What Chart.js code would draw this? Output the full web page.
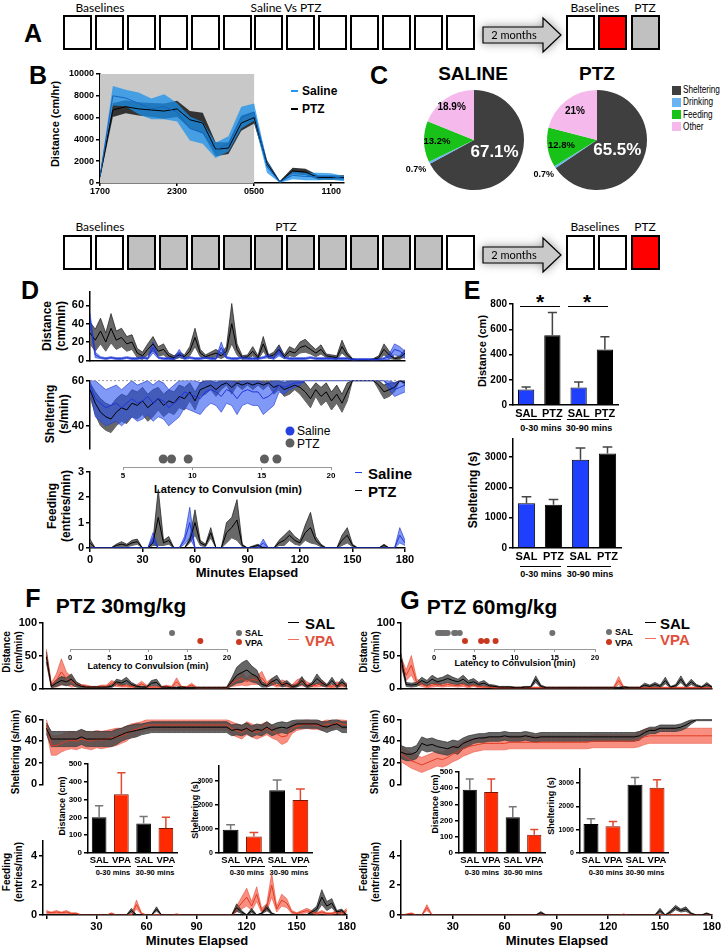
<!DOCTYPE html>
<html lang="en">
<head>
<meta charset="UTF-8">
<title>PTZ behaviour figure</title>
<script src="https://cdn.jsdelivr.net/npm/chart.js"></script>
<style>
  body { margin: 0; background: #fff; }
  #fig { position: relative; width: 721px; height: 948px; overflow: hidden; font-family: 'Liberation Sans', Arial, sans-serif; color: #000; }
  #fig canvas { position: absolute; }
  .t { position: absolute; transform: translate(-50%, -50%); white-space: nowrap; font-weight: bold; line-height: 1; }
  .l { position: absolute; transform: translateY(-50%); white-space: nowrap; font-weight: bold; line-height: 1; }
  .v { position: absolute; transform: translate(-50%, -50%) rotate(-90deg); white-space: nowrap; font-weight: bold; line-height: 1.15; text-align: center; }
  .panel { font-size: 25px; }
  .sched { font-family: Lato, sans-serif; font-weight: normal; font-size: 12px; }
  .box { position: absolute; border: 2px solid #000; box-sizing: border-box; }
  .hl { position: absolute; height: 0; border-top: 1px solid #000; }
  .dot { position: absolute; border-radius: 50%; transform: translate(-50%, -50%); }
  .sq { position: absolute; width: 9px; height: 9px; }
  .key { position: absolute; transform: translateY(-50%) scaleX(0.82); transform-origin: left center; white-space: nowrap; line-height: 1; font-size: 10px; }
  .arrow { position: absolute; filter: drop-shadow(0 0 5px rgba(0,0,0,0.4)); }
</style>
</head>
<body>
<div id="fig">
  <!-- panel letters -->
  <div class="t panel" style="left:33px;top:33px">A</div>
  <div class="t panel" style="left:38px;top:75px">B</div>
  <div class="t panel" style="left:379px;top:75px">C</div>
  <div class="t panel" style="left:30px;top:290px">D</div>
  <div class="t panel" style="left:472px;top:290px">E</div>
  <div class="t panel" style="left:33px;top:598px">F</div>
  <div class="t panel" style="left:410px;top:600px">G</div>

  <!-- schedules -->
  <div class="t sched" style="left:100px;top:8px">Baselines</div>
  <div class="t sched" style="left:286px;top:8px">Saline Vs PTZ</div>
  <div class="t sched" style="left:595px;top:8px">Baselines</div>
  <div class="t sched" style="left:645px;top:8px">PTZ</div>
  <div class="t sched" style="left:100px;top:227px">Baselines</div>
  <div class="t sched" style="left:286px;top:227px">PTZ</div>
  <div class="t sched" style="left:595px;top:227px">Baselines</div>
  <div class="t sched" style="left:645px;top:227px">PTZ</div>
  <svg class="arrow" style="left:480px;top:14px" width="86" height="42">
    <polygon points="3,13 63,13 63,4 81,21 63,38 63,29 3,29" fill="#c9c9c9" stroke="#000" stroke-width="1.2"/>
    <text x="34" y="25" font-family="Lato" font-size="11" text-anchor="middle">2 months</text>
  </svg>
  <svg class="arrow" style="left:480px;top:234px" width="86" height="42">
    <polygon points="3,13 63,13 63,4 81,21 63,38 63,29 3,29" fill="#c9c9c9" stroke="#000" stroke-width="1.2"/>
    <text x="34" y="25" font-family="Lato" font-size="11" text-anchor="middle">2 months</text>
  </svg>

  <!-- B -->
  <div class="v" style="left:55px;top:124px;font-size:11px">Distance (cm/hr)</div>
  <div class="hl" style="left:291px;top:90px;width:7px;border-top:2px solid #2196f3"></div>
  <div class="l" style="left:302px;top:91px;font-size:12px">Saline</div>
  <div class="hl" style="left:291px;top:108px;width:7px;border-top:2px solid #000"></div>
  <div class="l" style="left:302px;top:109px;font-size:12px">PTZ</div>

  <!-- C -->
  <div class="t" style="left:473px;top:73px;font-size:19px">SALINE</div>
  <div class="t" style="left:597px;top:73px;font-size:19px">PTZ</div>
  <div class="sq" style="left:672px;top:86px;background:#3f3f3f"></div>
  <div class="key" style="left:683px;top:90px">Sheltering</div>
  <div class="sq" style="left:672px;top:98px;background:#6bb3f2"></div>
  <div class="key" style="left:683px;top:102px">Drinking</div>
  <div class="sq" style="left:672px;top:110px;background:#19c219"></div>
  <div class="key" style="left:683px;top:115px">Feeding</div>
  <div class="sq" style="left:672px;top:122px;background:#f5b9ec"></div>
  <div class="key" style="left:683px;top:127px">Other</div>

  <!-- D -->
  <div class="v" style="left:55px;top:326px;font-size:12px">Distance<br>(cm/min)</div>
  <div class="v" style="left:58px;top:414px;font-size:12px">Sheltering<br>(s/min)</div>
  <div class="v" style="left:60px;top:506px;font-size:12px">Feeding<br>(entries/min)</div>
  <div class="t" style="left:247px;top:572px;font-size:13px">Minutes Elapsed</div>
  <div class="t" style="left:228px;top:489px;font-size:11px">Latency to Convulsion (min)</div>
  <div class="dot" style="left:290px;top:431px;width:9px;height:9px;background:#2541e0"></div>
  <div class="l" style="left:297px;top:431px;font-size:12px;font-weight:normal">Saline</div>
  <div class="dot" style="left:290px;top:443px;width:9px;height:9px;background:#5f5f5f"></div>
  <div class="l" style="left:297px;top:444px;font-size:12px;font-weight:normal">PTZ</div>
  <div class="hl" style="left:355px;top:472px;width:7px;border-top:1.5px solid #2541e0"></div>
  <div class="l" style="left:368px;top:473px;font-size:15px">Saline</div>
  <div class="hl" style="left:355px;top:490px;width:7px;border-top:1.5px solid #000"></div>
  <div class="l" style="left:368px;top:491px;font-size:15px">PTZ</div>

  <!-- E -->
  <div class="v" style="left:482px;top:351px;font-size:11px">Distance (cm)</div>
  <div class="v" style="left:474px;top:490px;font-size:12px">Sheltering (s)</div>
  <div class="hl" style="left:520px;top:306px;width:40px;border-top-width:1.5px"></div>
  <div class="hl" style="left:568px;top:306px;width:40px;border-top-width:1.5px"></div>
  <div class="t" style="left:540px;top:301px;font-size:21px">*</div>
  <div class="t" style="left:587px;top:301px;font-size:21px">*</div>
  <div class="hl" style="left:520px;top:419px;width:41px"></div>
  <div class="hl" style="left:567px;top:419px;width:42px"></div>
  <div class="t" style="left:541px;top:428px;font-size:9px">0-30 mins</div>
  <div class="t" style="left:589px;top:428px;font-size:9px">30-90 mins</div>
  <div class="hl" style="left:520px;top:566px;width:41px"></div>
  <div class="hl" style="left:567px;top:566px;width:44px"></div>
  <div class="t" style="left:541px;top:574px;font-size:9px">0-30 mins</div>
  <div class="t" style="left:590px;top:574px;font-size:9px">30-90 mins</div>

  <!-- F -->
  <div class="t" style="left:121px;top:605px;font-size:21px">PTZ 30mg/kg</div>
  <div class="v" style="left:12px;top:652px;font-size:10px">Distance<br>(cm/min)</div>
  <div class="v" style="left:16px;top:752px;font-size:10px">Sheltering (s/min)</div>
  <div class="v" style="left:12px;top:872px;font-size:10px">Feeding<br>(entries/min)</div>
  <div class="t" style="left:197px;top:940px;font-size:13px">Minutes Elapsed</div>
  <div class="t" style="left:148px;top:666px;font-size:9px">Latency to Convulsion (min)</div>
  <div class="dot" style="left:239px;top:633px;width:6px;height:6px;background:#707070"></div>
  <div class="l" style="left:245px;top:633px;font-size:9px">SAL</div>
  <div class="dot" style="left:239px;top:642px;width:6px;height:6px;background:#c8381e"></div>
  <div class="l" style="left:245px;top:643px;font-size:9px">VPA</div>
  <div class="hl" style="left:288px;top:622px;width:11px;border-top:1.5px solid #000"></div>
  <div class="l" style="left:305px;top:623px;font-size:15px">SAL</div>
  <div class="hl" style="left:288px;top:639px;width:11px;border-top:1.5px solid #f07060"></div>
  <div class="l" style="left:305px;top:640px;font-size:15px;color:#e0503a">VPA</div>
  <div class="v" style="left:62px;top:806px;font-size:9px">Distance (cm)</div>
  <div class="v" style="left:195px;top:810px;font-size:9px">Sheltering (s)</div>
  <div class="hl" style="left:95px;top:866px;width:36px"></div>
  <div class="hl" style="left:137px;top:866px;width:36px"></div>
  <div class="t" style="left:113px;top:873px;font-size:7.5px">0-30 mins</div>
  <div class="t" style="left:155px;top:873px;font-size:7.5px">30-90 mins</div>
  <div class="hl" style="left:230px;top:866px;width:35px"></div>
  <div class="hl" style="left:272px;top:866px;width:35px"></div>
  <div class="t" style="left:247px;top:873px;font-size:7.5px">0-30 mins</div>
  <div class="t" style="left:289px;top:873px;font-size:7.5px">30-90 mins</div>

  <!-- G -->
  <div class="t" style="left:492px;top:606px;font-size:21px">PTZ 60mg/kg</div>
  <div class="v" style="left:369px;top:652px;font-size:10px">Distance<br>(cm/min)</div>
  <div class="v" style="left:375px;top:752px;font-size:10px">Sheltering (s/min)</div>
  <div class="v" style="left:369px;top:872px;font-size:10px">Feeding<br>(entries/min)</div>
  <div class="t" style="left:557px;top:940px;font-size:13px">Minutes Elapsed</div>
  <div class="t" style="left:515px;top:663px;font-size:9px">Latency to Convulsion (min)</div>
  <div class="dot" style="left:609px;top:632px;width:6px;height:6px;background:#707070"></div>
  <div class="l" style="left:615px;top:632px;font-size:9px">SAL</div>
  <div class="dot" style="left:609px;top:642px;width:6px;height:6px;background:#c8381e"></div>
  <div class="l" style="left:615px;top:643px;font-size:9px">VPA</div>
  <div class="hl" style="left:645px;top:622px;width:11px;border-top:1.5px solid #000"></div>
  <div class="l" style="left:660px;top:623px;font-size:15px">SAL</div>
  <div class="hl" style="left:645px;top:638px;width:11px;border-top:1.5px solid #f07060"></div>
  <div class="l" style="left:660px;top:639px;font-size:15px;color:#e0503a">VPA</div>
  <div class="v" style="left:435px;top:804px;font-size:9px">Distance (cm)</div>
  <div class="v" style="left:551px;top:806px;font-size:9px">Sheltering (s)</div>
  <div class="hl" style="left:465px;top:866px;width:35px"></div>
  <div class="hl" style="left:505px;top:866px;width:36px"></div>
  <div class="t" style="left:482px;top:873px;font-size:7.5px">0-30 mins</div>
  <div class="t" style="left:523px;top:873px;font-size:7.5px">30-90 mins</div>
  <div class="hl" style="left:589px;top:866px;width:34px"></div>
  <div class="hl" style="left:628px;top:866px;width:35px"></div>
  <div class="t" style="left:606px;top:873px;font-size:7.5px">0-30 mins</div>
  <div class="t" style="left:645px;top:873px;font-size:7.5px">30-90 mins</div>
</div>

<script>
    // ---------- Panel B: 24 h distance, hourly ----------
    var bHour = [0,1,2,3,4,5,6,7,8,9,10,11,12,13,14,15,16,17,18,19];
    var bClockAt = [0, 6, 12, 18];
    var bClockTicks = ['1700', '2300', '0500', '1100'];
    var bNight = [0, 12];
    var bSalMean = [600,8000,7800,7300,6800,7000,6500,5000,4600,3000,3600,6000,6500,1500,100,700,600,600,600,400];
    var bSalSem  = [200,900,750,1000,950,1150,850,1100,1000,700,700,1000,800,550,80,350,350,350,300,250];
    var bPtzMean = [600,6700,7000,6800,6700,6600,6800,5800,5500,3100,3200,5500,6000,1800,100,1100,1000,500,500,500];
    var bPtzSem  = [200,650,600,600,650,700,750,800,950,650,550,700,550,300,80,300,300,200,200,200];

    // ---------- Panel C: time budget (%) ----------
    var pieCats = ['Sheltering', 'Drinking', 'Feeding', 'Other'];
    var pieSaline = [67.1, 0.7, 13.2, 18.9];
    var piePtz = [65.5, 0.7, 12.8, 21];

    // ---------- Panels D, F, G: 3-min bins ----------
    var minutes = [0,3,6,9,12,15,18,21,24,27,30,33,36,39,42,45,48,51,54,57,60,63,66,69,72,75,78,81,84,87,
                   90,93,96,99,102,105,108,111,114,117,120,123,126,129,132,135,138,141,144,147,150,153,156,159,162,165,168,171,174,177,180];

    // D distance (cm/min)
    var dDistSal = [45,6,3,2,3,2,2,3,2,2, 3,2,14,3,2,2,2,8,2,3, 2,2,3,2,2,14,3,2,2,3, 2,2,2,3,5,2,10,3,2,2, 2,2,3,2,2,2,2,2,2,2, 1,1,1,1,1,1,2,4,12,10, 6];
    var dDistSalSem = [6,3,1,1,1,1,1,1,1,1, 1,1,6,1,1,1,1,4,1,1, 1,1,1,1,1,6,1,1,1,1, 1,1,1,1,2,1,5,1,1,1, 1,1,1,1,1,1,1,1,1,1, 1,1,1,1,1,1,1,3,6,5, 4];
    var dDistPtz = [30,22,32,20,35,22,25,18,20,8, 5,12,18,10,12,5,3,6,4,10, 25,8,4,6,8,5,10,40,12,3, 4,10,3,18,4,6,12,4,10,8, 14,16,12,8,12,5,4,3,15,6, 1,0,0,0,1,3,12,6,2,3, 8];
    var dDistPtzSem = [12,12,14,10,16,10,10,8,8,5, 4,6,8,5,6,3,2,3,2,5, 10,4,2,3,4,3,5,22,6,2, 2,5,2,8,2,3,5,2,5,4, 6,7,5,4,5,2,2,2,7,3, 1,0,0,0,1,2,6,4,1,2, 4];
    // D sheltering (s/min)
    var dShelSal = [58,52,50,48,49,50,48,50,52,50, 51,53,50,52,51,48,50,52,55,54, 53,52,55,56,55,53,56,55,52,55, 56,55,55,52,53,55,58,57,58,59, 59,60,60,60,60,60,60,60,60,60, 60,60,60,60,60,60,60,58,56,57, 58];
    var dShelSalSem = [2,8,8,8,8,8,8,8,8,8, 8,8,8,8,8,8,8,8,7,7, 7,7,7,6,6,7,6,6,7,6, 6,6,6,7,6,6,3,3,2,2, 1,0,0,0,0,0,0,0,0,0, 0,0,0,0,0,0,0,2,3,3, 3];
    var dShelPtz = [56,50,46,44,43,46,48,47,50,49, 51,48,50,52,49,51,50,53,52,55, 51,56,57,58,56,58,59,57,59,58, 59,58,59,58,59,57,58,56,57,58, 57,55,52,56,53,55,51,54,50,55, 60,60,60,60,60,58,55,56,57,60, 59];
    var dShelPtzSem = [3,5,6,6,6,6,6,6,6,6, 6,6,6,5,5,5,5,5,5,4, 4,3,3,2,3,2,1,3,1,2, 1,2,1,2,1,3,2,3,3,2, 3,4,4,3,4,4,4,4,4,4, 0,0,0,0,0,2,3,3,2,0, 1];
    var dShelTop = 60;
    // D feeding (entries/min)
    var dFeedSal = [0,0,0,0,0,0,0,0,0,0, 0,0,0.4,0,0,0,0,0,0.3,1.0, 0,0,0,0,0,0,0,0,0,0, 0,0,0,0.2,0,0,0,0,0,0, 0,0,0,0,0,0,0,0,0,0, 0,0,0,0,0,0,0,0,0,0.5, 0.2];
    var dFeedSalSem = [0,0,0,0,0,0,0,0,0,0, 0,0,0.2,0,0,0,0,0,0.15,0.6, 0,0,0,0,0,0,0,0,0,0, 0,0,0,0.15,0,0,0,0,0,0, 0,0,0,0,0,0,0,0,0,0, 0,0,0,0,0,0,0,0,0,0.3, 0.1];
    var dFeedPtz = [0.2,0,0,0,0,0.1,0.15,0.1,0.2,0.25, 0,0,0.2,1.2,0.2,0.3,0,0,0,0.3, 1.0,0.2,0.1,0.6,0,0,0.6,0.8,1.1,0.1, 0,0.05,0.1,0,0,0,0.2,0.3,0.5,0.3, 0.2,0.6,0.8,0.3,0.1,0,0,0,0.3,0.5, 0.1,0,0,0,0,0,0.1,0,0,0, 0];
    var dFeedPtzSem = [0.15,0,0,0,0,0.05,0.1,0.05,0.1,0.1, 0,0,0.1,1.1,0.1,0.15,0,0,0,0.1, 0.5,0.1,0.05,0.2,0,0,0.4,0.4,0.8,0.05, 0,0.03,0.05,0,0,0,0.1,0.2,0.2,0.15, 0.1,0.3,0.6,0.15,0.05,0,0,0,0.2,0.3, 0.05,0,0,0,0,0,0.05,0,0,0, 0];
    // D latency to convulsion (min)
    var dLatRows = ['PTZ', ''];
    var dLatPtz = [7.9, 8.5, 9.7, 15.2, 16.1];

    // ---------- Panel E ----------
    var eCats = ['SAL', 'PTZ', 'SAL', 'PTZ'];
    var eDist = [122, 553, 138, 439];
    var eDistSem = [21, 179, 44, 101];
    var eShel = [1480, 1425, 2915, 3120];
    var eShelSem = [213, 180, 385, 215];

    // ---------- Panel F: PTZ 30 mg/kg ----------
    var fDistSal = [48,3,8,12,10,14,6,3,2,2, 2,2,2,3,10,8,12,6,3,2, 2,8,9,2,2,1,1,2,1,1, 1,1,1,1,1,1,1,10,20,24, 28,22,18,6,4,10,14,5,8,3, 4,12,3,6,15,8,4,12,3,10, 3];
    var fDistSalSem = [8,2,5,6,6,8,4,2,1,1, 1,1,1,2,4,4,5,3,2,1, 1,4,5,1,1,1,1,1,1,1, 1,1,1,1,1,1,1,6,12,15, 15,12,10,4,2,5,6,3,4,2, 2,6,2,3,7,4,2,5,2,5, 2];
    var fDistVpa = [50,5,12,25,15,10,6,4,3,2, 2,3,3,8,6,4,4,3,3,7, 3,2,2,2,3,2,10,2,2,5, 1,1,1,1,1,1,1,8,12,15, 10,14,12,16,6,10,4,8,6,3, 8,10,6,4,5,8,4,3,6,5, 5];
    var fDistVpaSem = [10,3,10,20,10,8,3,2,2,1, 1,2,2,4,3,2,2,2,2,4, 2,1,1,1,2,1,6,1,1,3, 1,1,1,1,1,1,1,5,8,10, 6,8,6,10,4,5,2,5,4,2, 5,6,4,2,3,5,2,2,4,3, 3];
    var fShelSal = [52,42,42,42,42,42,42,44,42,42, 42,42,42,42,44,46,48,49,50,51, 52,53,53,53,53,53,53,53,53,53, 53,53,53,53,53,53,53,50,51,50, 52,49,51,50,53,50,52,53,52,54, 56,56,56,56,56,54,53,55,56,53, 53];
    var fShelSalSem = [5,7,7,7,7,7,7,7,7,7, 7,7,7,7,7,6,6,6,6,5, 5,5,5,5,5,5,5,5,5,5, 5,5,5,5,5,5,5,5,5,5, 5,5,5,5,5,5,5,5,5,5, 4,4,4,4,4,4,5,5,5,5, 5];
    var fShelVpa = [55,36,36,38,40,41,40,42,41,40, 42,41,42,43,44,45,47,50,51,53, 55,55,55,55,55,55,55,55,55,55, 55,55,55,55,55,55,55,52,50,48, 52,50,48,50,52,49,47,44,45,52, 54,55,56,55,55,54,56,55,57,56, 55];
    var fShelVpaSem = [5,9,9,8,8,8,8,8,8,8, 8,8,8,8,8,7,7,6,6,5, 5,5,5,5,5,5,5,5,5,5, 5,5,5,5,5,5,5,6,6,6, 6,6,6,6,6,6,6,7,6,5, 4,4,4,4,4,4,4,4,4,4, 4];
    var fFeedSal = [0,0,0,0,0,0,0,0,0,0, 0,0,0,0,0,0,0,0.3,0,0, 0,0,0.4,0,0,0,0,0,0,0, 0,0,0,0,0,0,0,0,0.5,0.2, 0,0.3,0,0.1,0.5,0.1,0,0,0,0, 0,0,0,0.2,0.4,1.2,0.6,0.8,0.2,0.3, 0];
    var fFeedSalSem = [0,0,0,0,0,0,0,0,0,0, 0,0,0,0,0,0,0,0.15,0,0, 0,0,0.15,0,0,0,0,0,0,0, 0,0,0,0,0,0,0,0,0.25,0.1, 0,0.15,0,0.05,0.2,0.05,0,0,0,0, 0,0,0,0.1,0.2,0.5,0.3,0.3,0.1,0.1, 0];
    var fFeedVpa = [0.2,0.15,0.2,0.15,0.2,0.1,0.1,0,0,0, 0,0,0,0.1,0,0,0,0,0.7,0.1, 0,0,0,0,0,0,0.05,0,0,0, 0,0,0,0,0,0,0,0,0.4,0.8, 1.2,0.6,1.4,0.3,0.5,2.0,0.4,1.0,0.8,0.2, 0.1,0.2,0.3,0.2,0.1,0.2,0.1,0.1,0.2,0.1, 0.3];
    var fFeedVpaSem = [0.1,0.05,0.1,0.05,0.1,0.05,0.05,0,0,0, 0,0,0,0.05,0,0,0,0,0.3,0.05, 0,0,0,0,0,0,0.03,0,0,0, 0,0,0,0,0,0,0,0,0.2,0.4, 0.6,0.3,0.5,0.15,0.25,0.8,0.2,0.4,0.3,0.1, 0.05,0.1,0.15,0.1,0.05,0.1,0.05,0.05,0.1,0.05, 0.15];
    var latRows = ['SAL', 'VPA', ''];
    var fLatSal = [13.0];
    var fLatVpa = [16.6];
    var insetCats = ['SAL', 'VPA', 'SAL', 'VPA'];
    var fBarDist = [200, 330, 165, 140];
    var fBarDistSem = [65, 120, 40, 60];
    var fBarShel = [960, 680, 2600, 2200];
    var fBarShelSem = [210, 170, 430, 450];

    // ---------- Panel G: PTZ 60 mg/kg ----------
    var gDistSal = [45,6,5,6,12,8,14,10,12,15, 12,10,14,8,10,6,8,4,3,2, 2,2,1,1,2,2,14,3,1,1, 1,1,1,1,1,1,1,1,1,1, 1,1,1,2,1,1,1,5,3,6, 3,12,2,4,14,3,10,4,2,6, 2];
    var gDistSalSem = [8,3,3,3,5,4,6,5,5,6, 5,4,6,4,5,3,4,2,2,1, 1,1,1,1,1,1,5,2,1,1, 1,1,1,1,1,1,1,1,1,1, 1,1,1,1,1,1,1,3,2,3, 2,5,1,2,5,2,4,2,1,3, 1];
    var gDistVpa = [40,20,35,10,6,3,5,6,4,6, 5,4,6,3,5,3,2,2,1,1, 1,1,1,1,1,1,1,1,1,1, 1,1,1,1,1,1,1,1,1,1, 1,1,12,1,1,1,1,1,1,1, 1,1,1,1,1,1,1,1,1,1, 1];
    var gDistVpaSem = [8,8,15,5,3,2,3,3,2,3, 2,2,3,2,2,2,1,1,1,1, 1,1,1,1,1,1,1,1,1,1, 1,1,1,1,1,1,1,1,1,1, 1,1,6,1,1,1,1,1,1,1, 1,1,1,1,1,1,1,1,1,1, 1];
    var gShelSal = [30,28,28,30,38,36,37,35,34,33, 35,34,38,40,42,43,43,44,44,44, 45,44,44,44,45,44,43,44,44,44, 44,44,44,44,44,44,44,44,44,44, 44,44,44,44,44,44,45,48,50,50, 52,52,52,52,53,55,58,60,60,60, 60];
    var gShelSalSem = [6,6,6,6,6,6,6,6,6,6, 6,6,5,5,4,4,4,4,4,4, 4,4,4,4,4,4,4,4,4,4, 4,4,4,4,4,4,4,4,4,4, 4,4,4,4,4,4,4,3,3,3, 3,3,3,3,3,3,2,1,1,1, 1];
    var gShelVpa = [28,25,22,20,18,20,22,24,23,25, 28,30,33,35,36,37,38,38,38,38, 38,39,39,39,39,39,39,39,39,39, 39,39,39,39,39,39,39,40,40,40, 40,40,40,40,40,40,42,44,45,45, 45,45,45,45,45,45,45,45,45,45, 45];
    var gShelVpaSem = [7,7,7,7,7,7,7,7,7,7, 7,7,7,7,6,6,6,6,6,6, 6,6,6,6,6,6,6,6,6,6, 6,6,6,6,6,6,6,6,6,6, 6,6,6,6,6,6,7,7,7,7, 7,7,7,7,7,7,7,7,7,7, 7];
    var gFeedSal = [0,0,0,0,0,0,0,0,0,0, 0,0,0,0,0,0,0,0,0,0, 0,0,0,0,0,0,0,0.15,0,0, 0,0,0,0,0,0,0,0,0,0, 0,0,0,0,0,0,0,0,0,0, 0.3,0,0.2,0.5,0.3,0.4,0.1,0,0,0.1, 0];
    var gFeedSalSem = [0,0,0,0,0,0,0,0,0,0, 0,0,0,0,0,0,0,0,0,0, 0,0,0,0,0,0,0,0.08,0,0, 0,0,0,0,0,0,0,0,0,0, 0,0,0,0,0,0,0,0,0,0, 0.15,0,0.1,0.15,0.1,0.15,0.05,0,0,0.05, 0];
    var gFeedVpa = [0,0.05,0.1,0,0,0.5,0,0,0,0, 0,0,0,0,0,0,0,0,0,0, 0,0,0,0,0,0,0,0,0,0, 0,0,0,0,0,0,0,0,0,0, 0,0,0,0.05,0,0,0,0,0,0, 0,0,0,0,0,0,0,0,0,0, 0];
    var gFeedVpaSem = [0,0,0.05,0,0,0.2,0,0,0,0, 0,0,0,0,0,0,0,0,0,0, 0,0,0,0,0,0,0,0,0,0, 0,0,0,0,0,0,0,0,0,0, 0,0,0,0,0,0,0,0,0,0, 0,0,0,0,0,0,0,0,0,0, 0];
    var gLatSal = [0.5, 0.8, 1.0, 1.2, 1.4, 1.7, 2.5, 2.7, 3.2, 14.7];
    var gLatVpa = [3.85, 5.85, 6.55, 7.65];
    var gBarDist = [390, 375, 220, 112];
    var gBarDistSem = [65, 80, 65, 33];
    var gBarShel = [1250, 1150, 2930, 2800];
    var gBarShelSem = [220, 200, 310, 350];

    // ---------- shared setup ----------
    Chart.defaults.font.family = "'Liberation Sans', Arial, sans-serif";
    Chart.defaults.font.weight = 'bold';
    Chart.defaults.color = '#000';
    Chart.defaults.animation = false;
    Chart.defaults.responsive = false;
    Chart.defaults.plugins.legend.display = false;
    Chart.defaults.plugins.tooltip.enabled = false;
    Chart.defaults.elements.point.radius = 0;
    Chart.defaults.elements.line.tension = 0;

    var fig = document.getElementById('fig');

    // schedule boxes
    function addBox(left, top, fill) {
        var d = document.createElement('div');
        d.className = 'box';
        d.style.left = left + 'px';
        d.style.top = top + 'px';
        d.style.width = '29px';
        d.style.height = '35px';
        d.style.background = fill;
        fig.appendChild(d);
    }
    function scheduleRow(top, fills, endFills) {
        fills.forEach(function (f, i) { addBox(63 + i * 31.9, top, f); });
        endFills.forEach(function (f, i) { addBox(566 + i * 32.3, top, f); });
    }
    var W = '#fff', S = '#c0c0c0', R = '#ff0000';
    scheduleRow(15, [W,W,W,W,W,W,W,W,W,W,W,W,W], [W,R,S]);
    scheduleRow(235, [W,W,S,S,S,S,S,S,S,S,S,S,W], [W,W,R]);

    // canvas placed so that the chart area lands on box l,t,r,b
    function canvasAt(b) {
        var c = document.createElement('canvas');
        c.width = b.r - b.l + b.pl + b.pr;
        c.height = b.b - b.t + b.pt + b.pb;
        c.style.left = (b.l - b.pl) + 'px';
        c.style.top = (b.t - b.pt) + 'px';
        fig.appendChild(c);
        return c.getContext('2d');
    }
    function plain(v) { return v; }

    function yScale(b, min, max, step, size) {
        return {
            type: 'linear', min: min, max: max,
            afterFit: function (s) { s.width = b.pl; },
            // ticks on whole multiples of the step only
            afterBuildTicks: function (s) {
                var t = [];
                for (var v = Math.ceil(min / step) * step; v <= max + 1e-9; v += step) { t.push({ value: v }); }
                s.ticks = t;
            },
            border: { color: '#000', width: 1.5 },
            grid: { drawOnChartArea: false, color: '#000', lineWidth: 1.5, tickLength: 4 },
            ticks: { font: { size: size }, padding: 2, callback: plain }
        };
    }
    function xTime(b, min, showTicks, showLine) {
        return {
            type: 'linear', min: min, max: 180,
            afterFit: function (s) { s.height = b.pb; },
            border: { display: showLine, color: '#000', width: 1.5 },
            grid: { display: showTicks, drawTicks: showTicks, drawOnChartArea: false, color: '#000', lineWidth: 1.5, tickLength: 4 },
            ticks: { display: showTicks, stepSize: 30, includeBounds: false, font: { size: 11 }, padding: 1, maxRotation: 0,
                callback: function (v) { return (min < 0 || b.hideZero) && v === 0 ? '' : v; } }
        };
    }
    function meanLine(xs, mean, color, order) {
        return { data: xs.map(function (x, i) { return { x: x, y: mean[i] }; }),
            borderColor: color, borderWidth: 1, fill: false, order: order };
    }
    function band(xs, mean, sem, lo, hi, fillColor, edgeColor, order) {
        var up = xs.map(function (x, i) { return { x: x, y: Math.min(hi, mean[i] + sem[i]) }; });
        var dn = xs.map(function (x, i) { return { x: x, y: Math.max(lo, mean[i] - sem[i]) }; });
        return [
            { data: up, borderColor: edgeColor, borderWidth: 0.7, backgroundColor: fillColor, fill: '+1', order: order },
            { data: dn, borderColor: edgeColor, borderWidth: 0.7, fill: false, order: order }
        ];
    }
    function lineChart(b, sets, x, y, plugins, pluginOpts) {
        return new Chart(canvasAt(b), {
            type: 'line',
            data: { datasets: sets },
            options: {
                layout: { padding: { top: b.pt, right: b.pr, left: 0, bottom: 0 } },
                plugins: pluginOpts || {},
                scales: { x: x, y: y }
            },
            plugins: plugins || []
        });
    }

    // error bars above each bar
    var errorBars = {
        id: 'errorBars',
        afterDatasetsDraw: function (chart, args, opts) {
            var ctx = chart.ctx, y = chart.scales.y, vals = chart.data.datasets[0].data;
            chart.getDatasetMeta(0).data.forEach(function (bar, i) {
                var tip = y.getPixelForValue(vals[i] + opts.sem[i]);
                var cap = bar.width * 0.28;
                ctx.save();
                ctx.strokeStyle = opts.colors[i];
                ctx.lineWidth = 1.5;
                ctx.beginPath();
                ctx.moveTo(bar.x, bar.y);
                ctx.lineTo(bar.x, tip);
                ctx.moveTo(bar.x - cap, tip);
                ctx.lineTo(bar.x + cap, tip);
                ctx.stroke();
                ctx.restore();
            });
        }
    };
    function barChart(b, cats, vals, sem, fills, edges, errColors, yMax, step, tickSize, catSize, pct) {
        return new Chart(canvasAt(b), {
            type: 'bar',
            data: { labels: cats, datasets: [{ data: vals, backgroundColor: fills, borderColor: edges, borderWidth: 1,
                barPercentage: pct, categoryPercentage: 1 }] },
            options: {
                layout: { padding: { top: b.pt, right: b.pr, left: 0, bottom: 0 } },
                plugins: { errorBars: { sem: sem, colors: errColors } },
                scales: {
                    x: { afterFit: function (s) { s.height = b.pb; },
                        border: { color: '#000', width: 1.5 },
                        grid: { display: false, drawTicks: false },
                        ticks: { font: { size: catSize }, padding: 2, maxRotation: 0, autoSkip: false } },
                    y: yScale(b, 0, yMax, step, tickSize)
                }
            },
            plugins: [errorBars]
        });
    }
    function latencyChart(b, rows, sets, xMin, xMax, tickSize) {
        return new Chart(canvasAt(b), {
            type: 'scatter',
            data: { datasets: sets },
            options: {
                layout: { padding: { top: b.pt, right: b.pr, left: 0, bottom: 0 } },
                scales: {
                    x: { type: 'linear', min: xMin, max: xMax,
                        afterFit: function (s) { s.height = b.pb; },
                        border: { color: '#999', width: 1 },
                        grid: { drawOnChartArea: false, color: '#999', tickLength: 3 },
                        ticks: { stepSize: 5, font: { size: tickSize }, padding: 1, maxRotation: 0 } },
                    y: { type: 'category', labels: rows, offset: false,
                        afterFit: function (s) { s.width = b.pl; },
                        border: { display: false }, grid: { display: false }, ticks: { display: false } }
                }
            }
        });
    }
    function dots(values, row, color, r) {
        return { data: values.map(function (v) { return { x: v, y: row }; }),
            backgroundColor: color, borderWidth: 0, pointRadius: r, clip: false };
    }

    // ---------- B ----------
    var nightShade = {
        id: 'nightShade',
        beforeDatasetsDraw: function (chart, args, opts) {
            var x = chart.scales.x, a = chart.chartArea, ctx = chart.ctx;
            var x0 = x.getPixelForValue(opts.from), x1 = x.getPixelForValue(opts.to);
            ctx.save();
            ctx.fillStyle = '#c8c8c8';
            ctx.fillRect(x0, a.top, x1 - x0, a.bottom - a.top);
            ctx.restore();
        }
    };
    var bBox = { l: 100, t: 74, r: 344, b: 183, pl: 40, pt: 8, pr: 10, pb: 12 };
    lineChart(bBox,
        [meanLine(bHour, bSalMean, '#1565c0', 0), meanLine(bHour, bPtzMean, '#000', 1)]
            .concat(band(bHour, bSalMean, bSalSem, 0, Infinity, 'rgba(25,145,235,0.75)', 'rgba(0,0,0,0)', 2))
            .concat(band(bHour, bPtzMean, bPtzSem, 0, Infinity, '#333', 'rgba(0,0,0,0)', 3)),
        { type: 'linear', min: 0, max: 19,
            afterFit: function (s) { s.height = bBox.pb; },
            border: { color: '#000', width: 1.5 },
            grid: { drawOnChartArea: false, color: '#000', lineWidth: 1.5, tickLength: 3 },
            ticks: { stepSize: 6, includeBounds: false, font: { size: 9 }, padding: 0, maxRotation: 0,
                callback: function (v) { var i = bClockAt.indexOf(v); return i < 0 ? '' : bClockTicks[i]; } } },
        yScale(bBox, 0, 10000, 2000, 9),
        [nightShade], { nightShade: { from: bNight[0], to: bNight[1] } });

    // ---------- C ----------
    var pieText = {
        id: 'pieText',
        afterDatasetsDraw: function (chart, args, opts) {
            var ctx = chart.ctx, vals = chart.data.datasets[0].data;
            chart.getDatasetMeta(0).data.forEach(function (arc, i) {
                var mid = (arc.startAngle + arc.endAngle) / 2, r = arc.outerRadius * opts.dist[i];
                ctx.save();
                ctx.font = 'bold ' + opts.size[i] + "px 'Liberation Sans', Arial, sans-serif";
                ctx.fillStyle = opts.color[i];
                ctx.textAlign = 'center';
                ctx.textBaseline = 'middle';
                ctx.fillText(vals[i] + '%', arc.x + Math.cos(mid) * r, arc.y + Math.sin(mid) * r);
                ctx.restore();
            });
        }
    };
    var pieColors = ['#3f3f3f', '#6bb3f2', '#19c219', '#f5b9ec'];
    function pieChart(cx, vals, dist) {
        var b = { l: cx - 50, t: 90, r: cx + 50, b: 190, pl: 30, pt: 10, pr: 30, pb: 10 };
        return new Chart(canvasAt(b), {
            type: 'pie',
            data: { labels: pieCats, datasets: [{ data: vals, backgroundColor: pieColors, borderWidth: 0, hoverOffset: 0 }] },
            options: {
                radius: 50,
                layout: { padding: { left: 30, right: 30, top: 10, bottom: 10 } },
                plugins: { pieText: { dist: dist, size: [17, 9, 9.5, 10], color: ['#fff', '#000', '#000', '#000'] } }
            },
            plugins: [pieText]
        });
    }
    pieChart(474, pieSaline, [0.48, 1.3, 0.74, 0.8]);
    pieChart(597, piePtz, [0.46, 1.27, 0.72, 0.72]);

    // ---------- D ----------
    var salBlue = '#1f35d8', salBand = 'rgba(45,85,240,0.6)', salEdge = 'rgba(30,50,200,0.9)';
    var ptzBand = '#686868', ptzEdge = '#1a1a1a';
    var topLine = {
        id: 'topLine',
        afterDatasetsDraw: function (chart, args, opts) {
            var y = chart.scales.y.getPixelForValue(opts.value), a = chart.chartArea, ctx = chart.ctx;
            ctx.save();
            ctx.strokeStyle = '#888';
            ctx.lineWidth = 0.8;
            ctx.setLineDash([2, 2]);
            ctx.beginPath();
            ctx.moveTo(a.left, y);
            ctx.lineTo(a.right, y);
            ctx.stroke();
            ctx.restore();
        }
    };
    var dDistBox = { l: 90, t: 289, r: 405, b: 367, pl: 30, pt: 6, pr: 6, pb: 2 };
    lineChart(dDistBox,
        [meanLine(minutes, dDistSal, salBlue, 0), meanLine(minutes, dDistPtz, '#000', 1)]
            .concat(band(minutes, dDistSal, dDistSalSem, 0, 75, salBand, salEdge, 2))
            .concat(band(minutes, dDistPtz, dDistPtzSem, 0, 75, ptzBand, ptzEdge, 3)),
        xTime(dDistBox, 0, false, true), yScale(dDistBox, 0, 75, 20, 11));

    var dShelBox = { l: 90, t: 378, r: 405, b: 455, pl: 30, pt: 6, pr: 6, pb: 2 };
    lineChart(dShelBox,
        [meanLine(minutes, dShelSal, salBlue, 0), meanLine(minutes, dShelPtz, '#000', 1)]
            .concat(band(minutes, dShelSal, dShelSalSem, 30, dShelTop, salBand, salEdge, 2))
            .concat(band(minutes, dShelPtz, dShelPtzSem, 30, dShelTop, ptzBand, ptzEdge, 3)),
        xTime(dShelBox, 0, false, false), yScale(dShelBox, 30, 60, 20, 11),
        [topLine], { topLine: { value: dShelTop } });

    var dFeedBox = { l: 90, t: 469, r: 405, b: 548, pl: 30, pt: 6, pr: 12, pb: 16 };
    lineChart(dFeedBox,
        [meanLine(minutes, dFeedSal, salBlue, 0), meanLine(minutes, dFeedPtz, '#000', 1)]
            .concat(band(minutes, dFeedSal, dFeedSalSem, 0, 3, salBand, salEdge, 2))
            .concat(band(minutes, dFeedPtz, dFeedPtzSem, 0, 3, ptzBand, ptzEdge, 3)),
        xTime(dFeedBox, 0, true, true), yScale(dFeedBox, 0, 3, 1, 11));

    latencyChart({ l: 123, t: 459, r: 331, b: 467, pl: 6, pt: 6, pr: 8, pb: 12 }, dLatRows,
        [dots(dLatPtz, 'PTZ', '#5f5f5f', 4.5)], 5, 20, 8);

    // ---------- E ----------
    var eFills = ['#1f3fff', '#000', '#1f3fff', '#000'];
    barChart({ l: 513, t: 302, r: 618, b: 405, pl: 28, pt: 6, pr: 6, pb: 14 }, eCats, eDist, eDistSem,
        eFills, '#000', ['#444', '#444', '#444', '#444'], 800, 200, 10, 11, 0.62);
    barChart({ l: 513, t: 437, r: 621, b: 548, pl: 32, pt: 6, pr: 6, pb: 14 }, eCats, eShel, eShelSem,
        eFills, '#000', ['#444', '#444', '#444', '#444'], 3600, 1000, 10, 11, 0.64);

    // ---------- F and G ----------
    var vpaRed = '#e23b22', vpaBand = 'rgba(245,100,80,0.72)', vpaEdge = 'rgba(225,70,50,0.8)';
    var salGrayBand = 'rgba(75,75,75,0.85)', salGrayEdge = '#2a2a2a';
    var insetFills = ['#000', '#ff2a00', '#000', '#ff2a00'];
    var insetEdges = ['#000', '#7a1500', '#000', '#7a1500'];
    var insetErr = ['#777', '#e04a30', '#777', '#e04a30'];

    function dosePanel(l, r, xMin, d) {
        var distBox = { l: l, t: 620, r: r, b: 695, pl: 26, pt: 6, pr: 8, pb: 2 };
        lineChart(distBox,
            [meanLine(minutes, d.distSal, '#000', 0), meanLine(minutes, d.distVpa, vpaRed, 1)]
                .concat(band(minutes, d.distSal, d.distSalSem, 0, 100, salGrayBand, salGrayEdge, 2))
                .concat(band(minutes, d.distVpa, d.distVpaSem, 0, 100, vpaBand, vpaEdge, 3)),
            xTime(distBox, xMin, false, true), yScale(distBox, 0, 100, 50, 11));

        var shelBox = { l: l, t: 717, r: r, b: 791, pl: 26, pt: 6, pr: 8, pb: 2 };
        lineChart(shelBox,
            [meanLine(minutes, d.shelSal, '#000', 0), meanLine(minutes, d.shelVpa, vpaRed, 1)]
                .concat(band(minutes, d.shelSal, d.shelSalSem, 0, 60, salGrayBand, salGrayEdge, 2))
                .concat(band(minutes, d.shelVpa, d.shelVpaSem, 0, 60, vpaBand, vpaEdge, 3)),
            xTime(shelBox, xMin, false, false), yScale(shelBox, 0, 60, 20, 11));

        var feedBox = { l: l, t: 836, r: r, b: 915, pl: 26, pt: 4, pr: 10, pb: 16, hideZero: true };
        lineChart(feedBox,
            [meanLine(minutes, d.feedSal, '#000', 0), meanLine(minutes, d.feedVpa, vpaRed, 1)]
                .concat(band(minutes, d.feedSal, d.feedSalSem, 0, 5, salGrayBand, salGrayEdge, 2))
                .concat(band(minutes, d.feedVpa, d.feedVpaSem, 0, 5, vpaBand, vpaEdge, 3)),
            xTime(feedBox, xMin, true, true), yScale(feedBox, 0, 5, 2, 11));

        latencyChart({ l: d.latL, t: 633, r: d.latR, b: 649, pl: 6, pt: 6, pr: 6, pb: 12 }, latRows,
            [dots(d.latSal, 'SAL', '#707070', 3), dots(d.latVpa, 'VPA', '#c8381e', 3)], 0, 20, 7.5);

        barChart(d.distInset, insetCats, d.barDist, d.barDistSem, insetFills, insetEdges, insetErr, 500, 100, 8, 9.5, 0.66);
        barChart(d.shelInset, insetCats, d.barShel, d.barShelSem, insetFills, insetEdges, insetErr, 3600, 1000, 7, 9.5, 0.68);
    }

    dosePanel(43, 347, -2, {
        distSal: fDistSal, distSalSem: fDistSalSem, distVpa: fDistVpa, distVpaSem: fDistVpaSem,
        shelSal: fShelSal, shelSalSem: fShelSalSem, shelVpa: fShelVpa, shelVpaSem: fShelVpaSem,
        feedSal: fFeedSal, feedSalSem: fFeedSalSem, feedVpa: fFeedVpa, feedVpaSem: fFeedVpaSem,
        latL: 70, latR: 227, latSal: fLatSal, latVpa: fLatVpa,
        barDist: fBarDist, barDistSem: fBarDistSem, barShel: fBarShel, barShelSem: fBarShelSem,
        distInset: { l: 88, t: 762, r: 177, b: 853, pl: 24, pt: 5, pr: 4, pb: 12 },
        shelInset: { l: 219, t: 765, r: 312, b: 853, pl: 22, pt: 5, pr: 4, pb: 12 }
    });

    dosePanel(401, 712, 0, {
        distSal: gDistSal, distSalSem: gDistSalSem, distVpa: gDistVpa, distVpaSem: gDistVpaSem,
        shelSal: gShelSal, shelSalSem: gShelSalSem, shelVpa: gShelVpa, shelVpaSem: gShelVpaSem,
        feedSal: gFeedSal, feedSalSem: gFeedSalSem, feedVpa: gFeedVpa, feedVpaSem: gFeedVpaSem,
        latL: 434, latR: 595, latSal: gLatSal, latVpa: gLatVpa,
        barDist: gBarDist, barDistSem: gBarDistSem, barShel: gBarShel, barShelSem: gBarShelSem,
        distInset: { l: 459, t: 770, r: 545, b: 853, pl: 24, pt: 5, pr: 4, pb: 12 },
        shelInset: { l: 580, t: 768, r: 668, b: 853, pl: 22, pt: 5, pr: 4, pb: 12 }
    });
</script>
</body>
</html>
